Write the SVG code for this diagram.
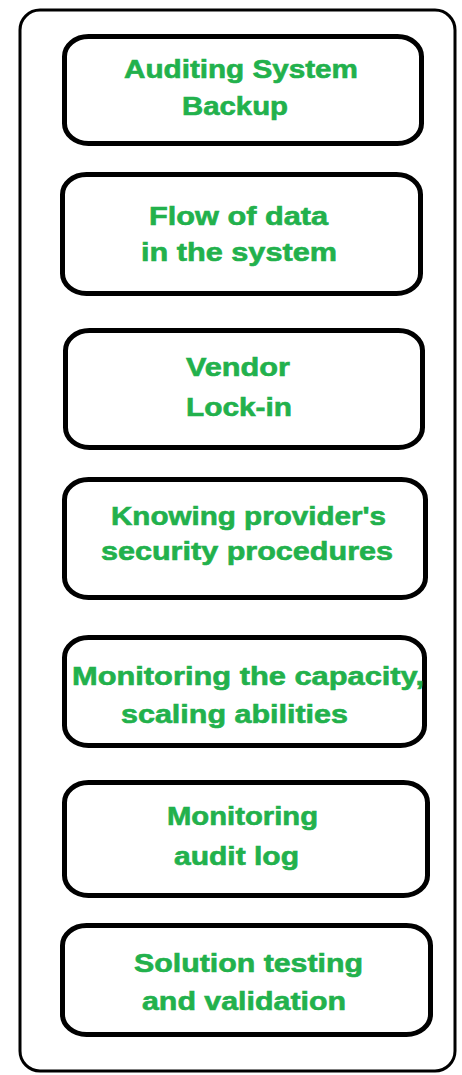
<svg xmlns="http://www.w3.org/2000/svg" width="462" height="1075" viewBox="0 0 462 1075">
<style>
.frame{fill:#fff;stroke:#000;stroke-width:3}
.box{fill:#fff;stroke:#000;stroke-width:5}
.t{font-family:"Liberation Sans",Arial,sans-serif;font-weight:bold;font-size:25px;fill:#22B14C;stroke:#22B14C;stroke-width:0.6}
</style>
<rect width="462" height="1075" fill="#fff"/>
<rect class="frame" x="20" y="10" width="435" height="1061" rx="20" ry="20"/>
<g id="connectors"></g>
<g id="n1">
<rect class="box" x="64.5" y="36.5" width="357" height="107" rx="24" ry="20"/>
<text class="t" x="124" y="78" textLength="234" lengthAdjust="spacingAndGlyphs">Auditing System</text>
<text class="t" x="182" y="115" textLength="106" lengthAdjust="spacingAndGlyphs">Backup</text>
</g>
<g id="n2">
<rect class="box" x="62.5" y="174.5" width="358" height="119" rx="24" ry="20"/>
<text class="t" x="149" y="225" textLength="179" lengthAdjust="spacingAndGlyphs">Flow of data</text>
<text class="t" x="141" y="261" textLength="196" lengthAdjust="spacingAndGlyphs">in the system</text>
</g>
<g id="n3">
<rect class="box" x="65.5" y="330.5" width="357" height="117" rx="24" ry="20"/>
<text class="t" x="186" y="376" textLength="104" lengthAdjust="spacingAndGlyphs">Vendor</text>
<text class="t" x="186" y="416" textLength="106" lengthAdjust="spacingAndGlyphs">Lock-in</text>
</g>
<g id="n4">
<rect class="box" x="64.5" y="479.5" width="361" height="118" rx="24" ry="20"/>
<text class="t" x="111" y="525" textLength="275" lengthAdjust="spacingAndGlyphs">Knowing provider's</text>
<text class="t" x="101" y="560" textLength="292" lengthAdjust="spacingAndGlyphs">security procedures</text>
</g>
<g id="n5">
<rect class="box" x="64.5" y="637.5" width="360" height="108" rx="24" ry="20"/>
<text class="t" x="72" y="685" textLength="352" lengthAdjust="spacingAndGlyphs">Monitoring the capacity,</text>
<text class="t" x="121" y="723" textLength="227" lengthAdjust="spacingAndGlyphs">scaling abilities</text>
</g>
<g id="n6">
<rect class="box" x="64.5" y="782.5" width="363" height="113" rx="24" ry="20"/>
<text class="t" x="167" y="825" textLength="151" lengthAdjust="spacingAndGlyphs">Monitoring</text>
<text class="t" x="174" y="865" textLength="125" lengthAdjust="spacingAndGlyphs">audit log</text>
</g>
<g id="n7">
<rect class="box" x="62.5" y="925.5" width="368" height="109" rx="24" ry="20"/>
<text class="t" x="134" y="972" textLength="229" lengthAdjust="spacingAndGlyphs">Solution testing</text>
<text class="t" x="142" y="1010" textLength="204" lengthAdjust="spacingAndGlyphs">and validation</text>
</g>
</svg>
